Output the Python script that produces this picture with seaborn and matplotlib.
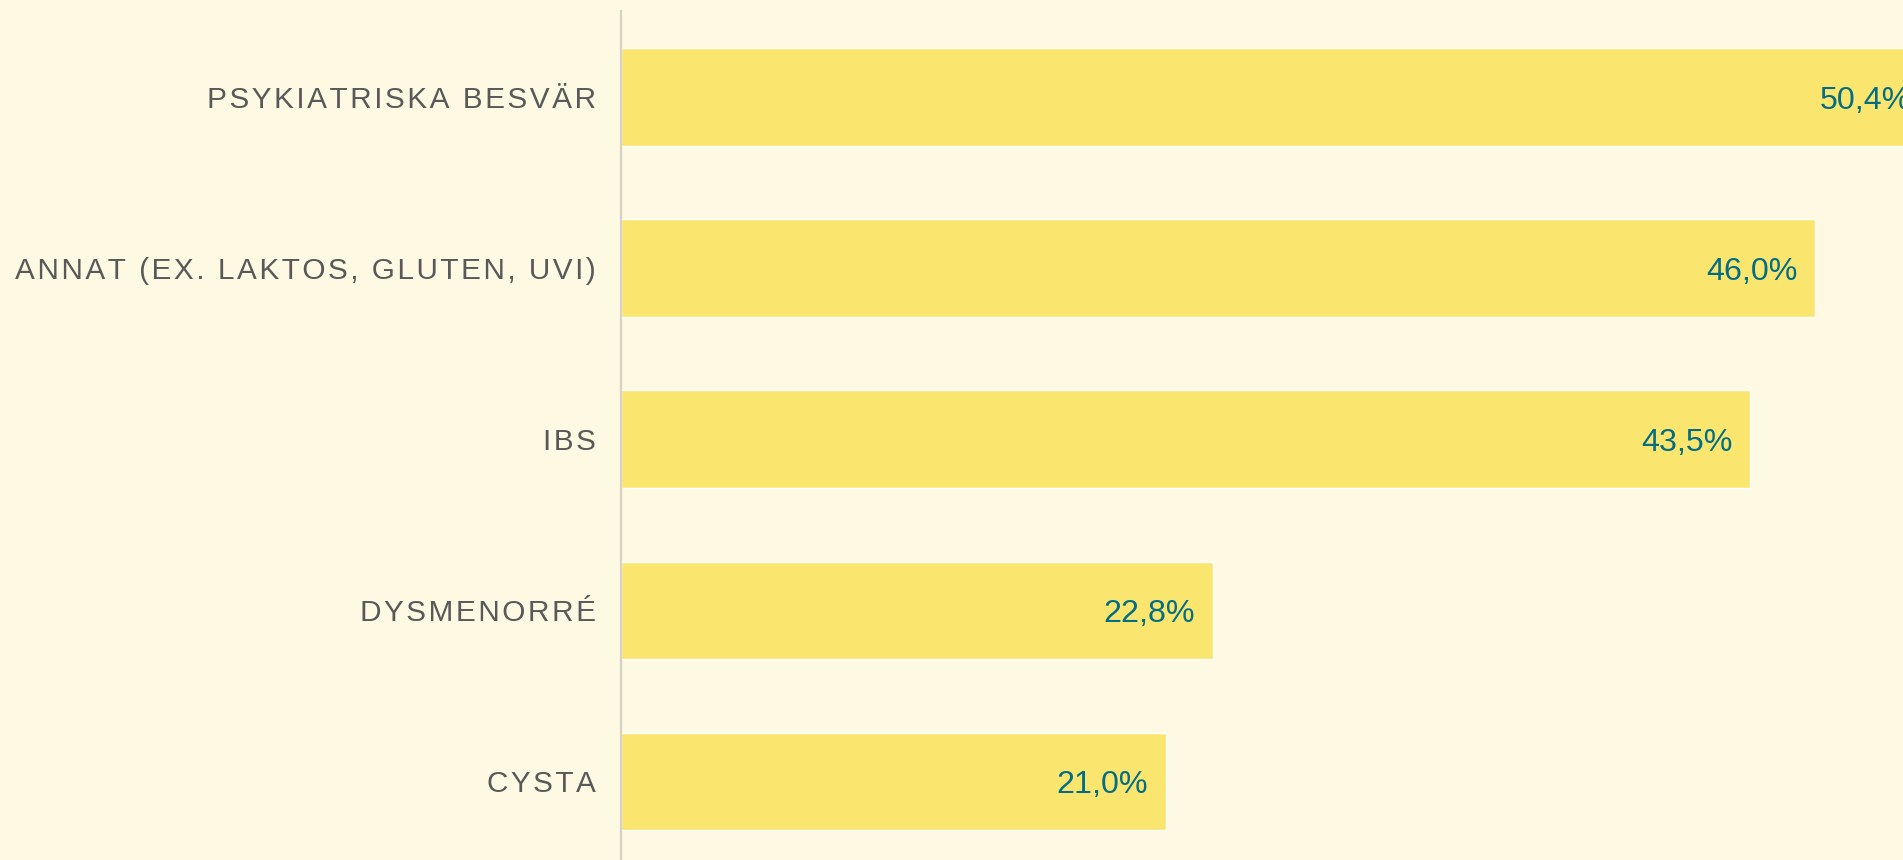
import matplotlib
matplotlib.use("Agg")
import matplotlib.pyplot as plt
import seaborn as sns
import pandas as pd

categories = ["PSYKIATRISKA BESVÄR", "ANNAT (EX. LAKTOS, GLUTEN, UVI)", "IBS", "DYSMENORRÉ", "CYSTA"]
values = [50.4, 46.0, 43.5, 22.8, 21.0]
value_labels = ["50,4%", "46,0%", "43,5%", "22,8%", "21,0%"]

BG = "#fdf9e2"
BAR = "#fae66e"
VAL = "#036d84"
LAB = "#595959"

sns.set_theme(style="white")
plt.rcParams['font.family'] = ['Liberation Sans', 'DejaVu Sans']

fig = plt.figure(figsize=(19.03, 8.6), dpi=100)
fig.patch.set_facecolor(BG)
ax = fig.add_axes([621/1903, 0.0, 1 - 621/1903, 1 - 11.5/860])
ax.set_facecolor(BG)

df = pd.DataFrame({"cat": categories, "val": values})
sns.barplot(data=df, x="val", y="cat", color=BAR, saturation=1, width=0.57, ax=ax, orient="h")

ax.set_xlim(0, 49.38)
ax.set_ylim(4.459, -0.5)
ax.set_xlabel("")
ax.set_ylabel("")
ax.set_xticks([])

def spaced(s):
    return "\u200a".join(list(s))

ax.set_yticks(range(len(categories)))
ax.set_yticklabels([spaced(c) for c in categories], fontsize=21.4, color=LAB)
ax.tick_params(axis="y", length=0, pad=18)

for s in ["top", "right", "bottom"]:
    ax.spines[s].set_visible(False)
ax.spines["left"].set_color("#d6d3c4")
ax.spines["left"].set_linewidth(1.6)
ax.spines["left"].set_zorder(5)

for i, (v, lab) in enumerate(zip(values, value_labels)):
    ax.annotate(lab, xy=(v, i), xytext=(-13, -8.3), textcoords="offset points",
                ha="right", va="baseline", fontsize=23.2, color=VAL,
                annotation_clip=False, clip_on=False)

fig.savefig("out.png", dpi=100, facecolor=BG)
